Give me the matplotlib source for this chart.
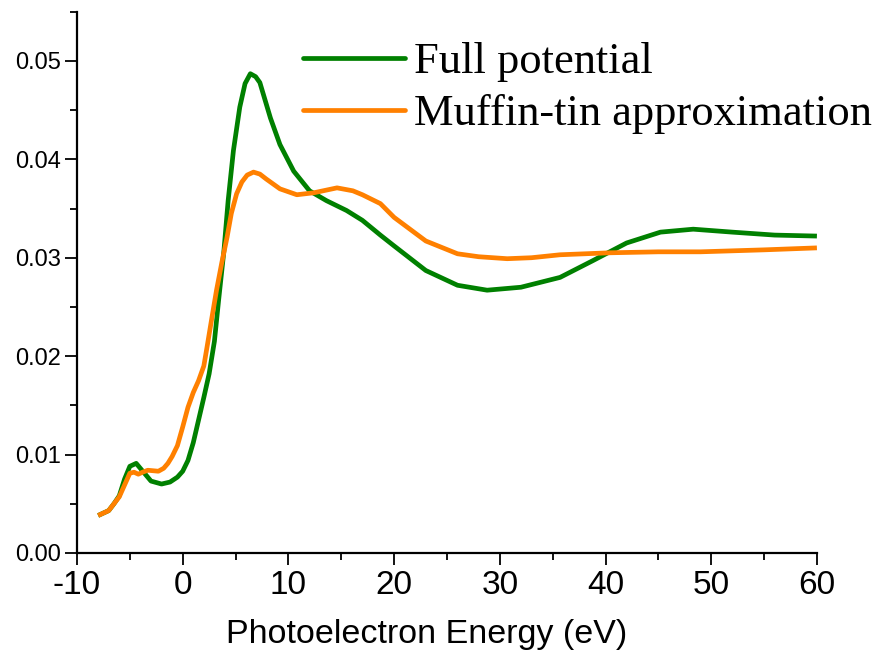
import numpy as np
import matplotlib.pyplot as plt
from matplotlib.ticker import MultipleLocator

plt.rcParams['axes.unicode_minus'] = False

# Full potential (green) curve
full_e = [-8, -7, -6.5, -6, -5.5, -5, -4.4, -3.7, -3, -2, -1.2, -0.5, 0, 0.5, 1, 1.5, 2, 2.5, 3,
          3.4, 3.9, 4.3, 4.8, 5.4, 5.9, 6.4, 6.9, 7.3, 8.3, 9.2, 10.5, 12, 13.6, 15.5, 17, 18.7,
          20, 23, 26, 28.8, 32, 35.7, 38.8, 42, 45.2, 48.3, 52, 56, 60]
full_y = [0.0038, 0.0043, 0.0050, 0.0058, 0.0075, 0.0088, 0.0091, 0.0082, 0.0073, 0.0070, 0.0072,
          0.0077, 0.0083, 0.0094, 0.0112, 0.0135, 0.0158, 0.0182, 0.0215, 0.0257, 0.0307, 0.0358,
          0.0409, 0.0453, 0.0477, 0.0487, 0.0484, 0.0478, 0.0442, 0.0415, 0.0388, 0.0368, 0.0358,
          0.0348, 0.0338, 0.0323, 0.0312, 0.0287, 0.0272, 0.0267, 0.0270, 0.0280, 0.0297, 0.0315,
          0.0326, 0.0329, 0.0326, 0.0323, 0.0322]

# Muffin-tin approximation (orange) curve
mt_e = [-8, -7, -6.5, -6, -5.5, -5, -4.6, -4.2, -3.8, -3.3, -2.3, -1.8, -1.4, -1, -0.5, 0, 0.5,
        1, 1.5, 2, 2.3, 2.7, 3.2, 3.7, 4.2, 4.6, 5.1, 5.6, 6.1, 6.7, 7.3, 7.9, 9.2, 10.8, 12.4,
        14.6, 16.1, 17, 18.7, 20, 23, 26, 28, 30.7, 33, 35.7, 40.4, 45, 49, 55, 60]
mt_y = [0.0038, 0.0043, 0.0050, 0.0057, 0.0069, 0.0081, 0.0082, 0.0080, 0.0082, 0.0084, 0.0083,
        0.0086, 0.0091, 0.0098, 0.0109, 0.0128, 0.0148, 0.0163, 0.0175, 0.0190, 0.0209, 0.0235,
        0.0267, 0.0295, 0.0321, 0.0345, 0.0365, 0.0377, 0.0384, 0.0387, 0.0385, 0.0380, 0.0370,
        0.0364, 0.0366, 0.0371, 0.0368, 0.0364, 0.0355, 0.0341, 0.0317, 0.0304, 0.0301, 0.0299,
        0.0300, 0.0303, 0.0305, 0.0306, 0.0306, 0.0308, 0.0310]

fig = plt.figure(figsize=(8.84, 6.52), dpi=100)
ax = fig.add_axes([0.0871, 0.152, 0.837, 0.830])

ax.plot(full_e, full_y, color='#008000', lw=3.4, solid_joinstyle='round',
        solid_capstyle='butt', label='Full potential')
ax.plot(mt_e, mt_y, color='#FF8000', lw=3.4, solid_joinstyle='round',
        solid_capstyle='butt', label='Muffin-tin approximation')

ax.set_xlim(-10, 60)
ax.set_ylim(0, 0.055)
ax.xaxis.set_major_locator(MultipleLocator(10))
ax.xaxis.set_minor_locator(MultipleLocator(5))
ax.yaxis.set_major_locator(MultipleLocator(0.01))
ax.yaxis.set_minor_locator(MultipleLocator(0.005))
ax.yaxis.set_major_formatter(plt.FuncFormatter(lambda v, p: f"{v:.2f}"))

for s in ['top', 'right']:
    ax.spines[s].set_visible(False)
for s in ['left', 'bottom']:
    ax.spines[s].set_linewidth(1.6)

ax.tick_params(which='major', length=8.5, width=1.3)
ax.tick_params(which='minor', length=5, width=1.3)
ax.tick_params(axis='x', labelsize=24, pad=4)
ax.tick_params(axis='y', labelsize=17, pad=3)
for lab in ax.get_xticklabels() + ax.get_yticklabels():
    lab.set_family('Liberation Sans')

ax.set_xlabel('Photoelectron Energy (eV)', fontsize=24.5, family='Liberation Sans')
ax.xaxis.set_label_coords(0.472, -0.122)

leg = ax.legend(loc='upper left', bbox_to_anchor=(0.343, 0.935), bbox_transform=fig.transFigure,
                frameon=False, prop={'family': 'Liberation Serif', 'size': 32},
                handlelength=2.28, handletextpad=0.22, borderpad=0, borderaxespad=0,
                labelspacing=0.26)
for line in leg.get_lines():
    line.set_solid_capstyle('round')

fig.savefig('out.png', dpi=100)
